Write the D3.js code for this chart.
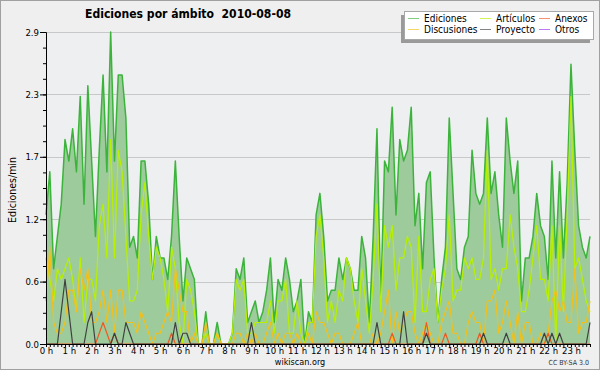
<!DOCTYPE html>
<html>
<head>
<meta charset="utf-8">
<script src="https://cdn.jsdelivr.net/npm/d3@7"></script>
<style>
body { margin: 0; background: #efefef; }
svg { display: block; }
text { font-family: "DejaVu Sans Condensed", "DejaVu Sans", sans-serif; font-stretch: condensed; }
</style>
</head>
<body>
<svg width="600" height="370"></svg>
<script>
// ediciones por minuto, una muestra cada 10 minutos (144 por dia)
var ediciones = [
  1.2,1.6,0.7,1.0,1.3,1.9,1.7,2.0,1.6,2.3,1.3,2.4,
  1.7,1.0,1.8,2.5,1.6,2.9,1.7,2.5,2.5,2.1,0.9,1.0,
  0.8,1.7,1.7,1.3,0.6,1.0,0.8,0.8,0.6,1.0,1.7,1.0,
  0.4,0.8,0.7,0.6,0.0,0.0,0.3,0.0,0.0,0.2,0.0,0.0,
  0.0,0.1,0.7,0.6,0.8,0.2,0.3,0.4,0.2,0.3,0.5,0.8,
  0.2,0.6,0.5,0.8,0.6,0.3,0.4,0.6,0.0,0.3,0.2,1.2,
  1.4,1.0,0.4,0.5,0.5,0.8,0.6,0.8,0.7,0.5,0.5,1.0,
  0.8,0.2,1.0,2.0,0.4,1.7,1.6,2.2,1.2,1.9,1.7,1.8,
  2.2,1.1,1.4,0.7,1.5,1.6,0.8,0.2,0.6,0.9,2.1,1.4,
  0.7,0.6,0.9,1.0,1.8,1.4,1.3,1.4,2.1,1.4,1.6,1.2,
  0.9,2.1,1.7,1.4,1.7,0.4,0.8,0.8,1.0,1.4,1.1,1.0,
  0.6,1.7,0.8,1.6,0.8,1.5,2.6,1.8,1.1,0.9,0.8,1.0
];
var articulos = [
  0.8,0.6,0.4,0.7,0.6,0.7,0.8,0.6,0.3,0.8,0.2,0.6,
  0.6,0.4,1.1,1.3,0.8,1.9,0.8,1.8,1.6,1.0,0.4,0.4,
  0.5,1.2,1.5,1.0,0.6,0.9,0.8,0.6,0.3,0.9,0.7,0.2,
  0.0,0.6,0.5,0.3,0.0,0.0,0.1,0.0,0.0,0.1,0.0,0.0,
  0.0,0.1,0.6,0.5,0.6,0.1,0.1,0.2,0.2,0.2,0.2,0.4,
  0.1,0.4,0.4,0.6,0.1,0.1,0.4,0.1,0.0,0.2,0.2,1.0,
  1.2,0.8,0.2,0.4,0.2,0.5,0.4,0.8,0.7,0.4,0.2,0.7,
  0.4,0.1,0.6,1.3,0.3,1.1,0.9,1.1,0.5,0.8,0.8,1.0,
  0.9,0.2,1.0,0.3,0.3,0.6,0.7,0.2,0.5,0.7,1.2,0.4,
  0.5,0.5,0.8,0.7,0.8,0.6,0.6,0.8,1.8,0.6,0.7,0.5,
  0.7,0.7,1.2,0.9,0.7,0.3,0.3,0.5,0.8,1.1,0.6,0.6,
  0.4,1.1,0.0,1.1,0.3,1.2,2.3,0.7,0.8,0.6,0.4,0.3
];
var discusiones = [
  0.4,0.9,0.2,0.1,0.1,0.2,0.5,0.5,0.3,0.7,0.5,0.7,
  0.2,0.2,0.3,0.5,0.2,0.5,0.1,0.5,0.5,0.2,0.2,0.2,
  0.1,0.3,0.2,0.1,0.0,0.1,0.1,0.2,0.3,0.2,0.7,0.5,
  0.3,0.3,0.0,0.1,0.0,0.0,0.2,0.0,0.0,0.1,0.0,0.0,
  0.0,0.0,0.1,0.1,0.0,0.1,0.0,0.1,0.0,0.0,0.1,0.2,
  0.0,0.1,0.0,0.1,0.1,0.0,0.1,0.0,0.0,0.1,0.0,0.3,
  0.2,0.2,0.1,0.0,0.1,0.1,0.0,0.0,0.0,0.1,0.2,0.0,
  0.0,0.0,0.1,0.0,0.1,0.3,0.5,0.0,0.3,0.1,0.2,0.3,
  0.3,0.1,0.0,0.1,0.2,0.1,0.0,0.0,0.2,0.3,0.4,0.1,
  0.1,0.0,0.0,0.2,0.3,0.2,0.2,0.0,0.4,0.4,0.5,0.1,
  0.2,0.4,0.2,0.0,0.3,0.0,0.2,0.2,0.0,0.0,0.1,0.0,
  0.1,0.4,0.5,0.3,0.4,0.2,0.2,0.7,0.1,0.2,0.2,0.4
];
var anexos = [
  0,0,0,0,0,0,0,0,0,0,0,0,
  0,0,0.1,0.2,0.1,0,0.1,0,0,0,0,0,
  0,0,0,0,0,0,0,0,0,0.1,0,0,
  0,0,0,0,0,0,0,0,0,0,0,0,
  0,0,0,0,0,0,0,0,0,0,0,0,
  0,0,0,0,0,0,0,0,0,0,0,0,
  0,0,0,0,0,0,0,0,0,0,0,0,
  0,0,0,0,0,0,0,0.1,0,0,0,0,
  0,0,0,0,0.2,0,0,0,0,0.1,0,0,
  0,0,0,0,0,0,0.1,0,0,0,0,0,
  0,0,0,0,0,0,0,0,0,0,0,0,
  0.1,0,0,0,0,0,0,0,0,0,0,0
];
var proyecto = [
  0,0,0,0,0.3,0.6,0.3,0,0,0,0,0.2,
  0.3,0,0,0,0,0,0.1,0,0,0.2,0.1,0,
  0,0,0,0,0,0,0,0,0,0,0.2,0,
  0.1,0.1,0,0,0,0,0,0,0,0,0,0,
  0,0,0,0,0,0,0.2,0,0,0,0,0,
  0,0,0,0,0,0,0,0,0,0,0,0,
  0,0,0,0,0,0,0,0,0,0,0,0,
  0,0,0,0.2,0,0,0,0,0,0,0.3,0,
  0,0,0,0,0.1,0,0,0,0,0,0,0,
  0,0,0,0,0,0,0,0.1,0,0,0,0,
  0,0.1,0,0,0,0,0,0,0,0,0,0.1,
  0,0.1,0,0.1,0,0,0,0,0,0,0,0.2
];

var yTicks = [0, 0.58, 1.16, 1.74, 2.32, 2.9];
var yLabels = ["0.0", "0.6", "1.2", "1.7", "2.3", "2.9"];
var hourLabels = ["0 h","1 h","2 h","3 h","4 h","5 h","6 h","7 h","8 h","9 h","10 h","11 h",
  "12 h","13 h","14 h","15 h","16 h","17 h","18 h","19 h","20 h","21 h","22 h","23 h"];
var legendNames = ["Ediciones", "Discusiones", "Artículos", "Proyecto", "Anexos", "Otros"];
var legendColors = ["#3cb43c", "#f2c019", "#b8f000", "#404040", "#ee5a22", "#9933ee"];

var svg = d3.select('svg');
var x = d3.scaleLinear().domain([0, 143]).range([46, 590]);
var y = d3.scaleLinear().domain([0, 2.9]).range([344, 32]);

svg.append('rect').attr('x', 0.5).attr('y', 0.5).attr('width', 599).attr('height', 369)
  .attr('fill', '#efefef').attr('stroke', '#a0a0a0');
svg.append('rect').attr('x', 46).attr('y', 32).attr('width', 544).attr('height', 312)
  .attr('fill', '#edeff1');

// grid
svg.selectAll('line.grid').data(yTicks.slice(1)).enter().append('line')
  .attr('class', 'grid')
  .attr('x1', 46).attr('x2', 590)
  .attr('y1', function(d) { return Math.round(y(d)) + 0.5; })
  .attr('y2', function(d) { return Math.round(y(d)) + 0.5; })
  .attr('stroke', '#c8c8c8');

var area = d3.area()
  .x(function(d, i) { return x(i); })
  .y0(y(0))
  .y1(function(d) { return y(d); });
var line = d3.line()
  .x(function(d, i) { return x(i); })
  .y(function(d) { return y(d); });

svg.append('path').datum(ediciones).attr('d', area).attr('fill', '#9ecb9c');
svg.append('path').datum(ediciones).attr('d', line).attr('fill', 'none')
  .attr('stroke', '#3cb43c').attr('stroke-width', 1.5).attr('stroke-linejoin', 'round');

var series = [
  {data: articulos, color: '#b8f000'},
  {data: discusiones, color: '#f2c019'},
  {data: anexos, color: '#ee5a22'},
  {data: proyecto, color: '#404040'}
];
series.forEach(function(s) {
  svg.append('path').datum(s.data).attr('d', line).attr('fill', 'none')
    .attr('stroke', s.color).attr('stroke-width', 1.2).attr('stroke-linejoin', 'round');
});

// axes
svg.append('g').attr('transform', 'translate(46,0)')
  .call(d3.axisLeft(y).tickValues(yTicks).tickSize(6).tickSizeOuter(0).tickPadding(1)
    .tickFormat(function(d, i) { return yLabels[i]; }));
svg.append('g').attr('transform', 'translate(46,0)')
  .call(d3.axisLeft(y).tickValues(d3.range(0, 2.91, 0.145)).tickSize(3).tickSizeOuter(0).tickFormat(''));

svg.append('g').attr('transform', 'translate(0,344)')
  .call(d3.axisBottom(x).tickValues(d3.range(0, 144)).tickSize(3).tickSizeOuter(0).tickPadding(0.5)
    .tickFormat(function(d) { return d % 6 === 0 ? hourLabels[d / 6] : ''; }));

svg.selectAll('.domain, .tick line').attr('stroke', '#000');
svg.selectAll('.tick text').attr('font-size', 9.5).attr('fill', '#000')
  .style('font-family', '"DejaVu Sans Condensed", "DejaVu Sans", sans-serif');

// titles
svg.append('text').attr('x', 85).attr('y', 18.3)
  .attr('font-size', 12).attr('font-weight', 'bold')
  .attr('textLength', 206).attr('lengthAdjust', 'spacingAndGlyphs')
  .style('white-space', 'pre')
  .text('Ediciones por ámbito  2010-08-08');

svg.append('text').attr('transform', 'translate(15.5,190) rotate(-90)')
  .attr('text-anchor', 'middle').attr('font-size', 10.5)
  .text('Ediciones/min');

svg.append('text').attr('x', 300).attr('y', 365).attr('text-anchor', 'middle')
  .attr('font-size', 9).text('wikiscan.org');
svg.append('text').attr('x', 589).attr('y', 365).attr('text-anchor', 'end')
  .attr('font-size', 7).attr('fill', '#333').text('CC BY-SA 3.0');

// legend
var lg = svg.append('g');
lg.append('rect').attr('x', 401).attr('y', 15).attr('width', 189).attr('height', 28).attr('fill', '#9a9a9a');
lg.append('rect').attr('x', 404.5).attr('y', 11.5).attr('width', 189).attr('height', 28)
  .attr('fill', '#ffffff').attr('stroke', '#a8a8a8');
var colX = [408, 480, 539];
var rowY = [18.5, 29.5];
legendNames.forEach(function(name, i) {
  var cx = colX[Math.floor(i / 2)];
  var cy = rowY[i % 2];
  lg.append('line').attr('x1', cx).attr('x2', cx + 11).attr('y1', cy).attr('y2', cy)
    .attr('stroke', legendColors[i]).attr('stroke-width', 1).attr('stroke-opacity', 0.65);
  lg.append('text').attr('x', cx + 16).attr('y', cy + 3.5).attr('font-size', 10)
    .text(name);
});
</script>
</body>
</html>
